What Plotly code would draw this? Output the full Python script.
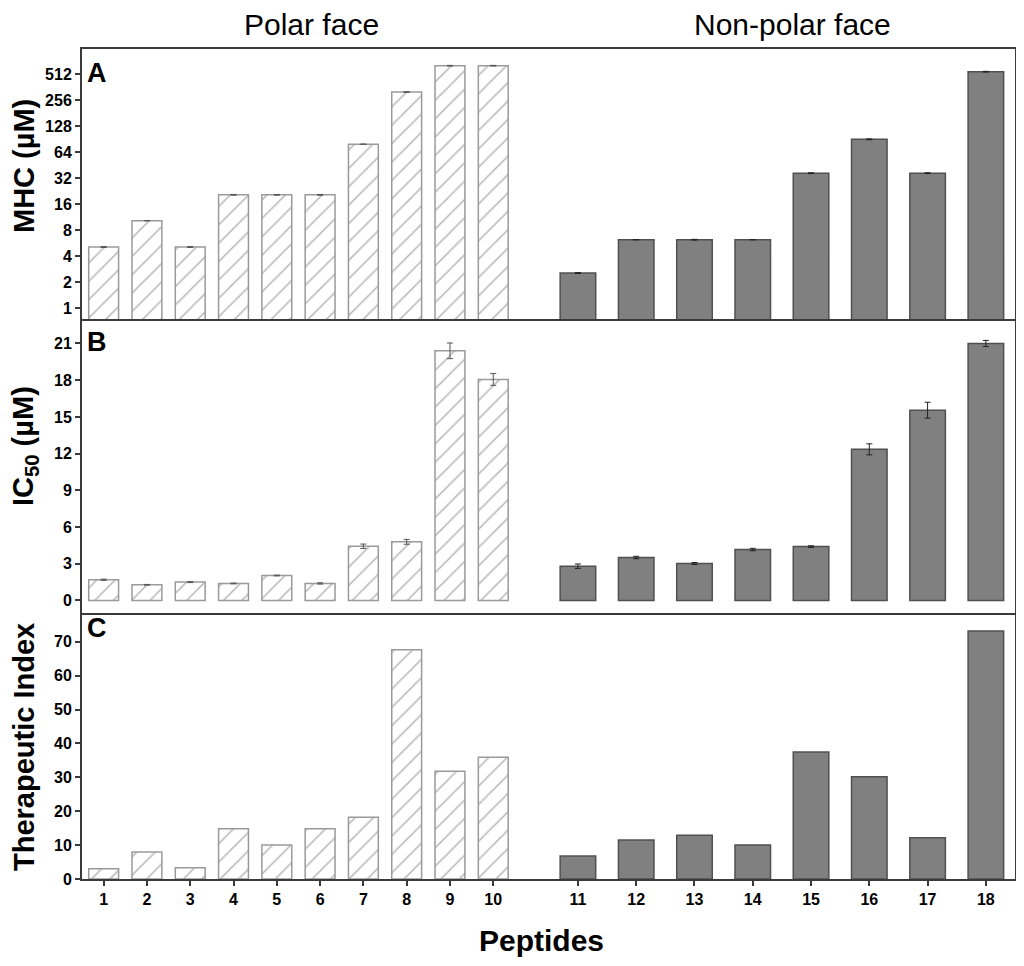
import plotly.graph_objects as go

# ---------------- data ----------------
polar_ids = [1, 2, 3, 4, 5, 6, 7, 8, 9, 10]
nonpolar_ids = [11, 12, 13, 14, 15, 16, 17, 18]

mhc_polar = [5.1, 10.3, 5.1, 20.5, 20.5, 20.5, 79, 317, 640, 640]
mhc_polar_err = [0.06, 0.0, 0.06, 0.2, 0.2, 0.2, 0.0, 2.0, 5.0, 5.0]
mhc_nonpolar = [2.55, 6.2, 6.2, 6.2, 36.5, 90, 36.5, 545]
mhc_nonpolar_err = [0.03, 0.0, 0.06, 0.0, 0.4, 1.0, 0.4, 5.0]

ic50_polar = [1.69, 1.28, 1.50, 1.39, 2.04, 1.39, 4.43, 4.79, 20.4, 18.06]
ic50_polar_err = [0.05, 0.03, 0.04, 0.03, 0.03, 0.05, 0.18, 0.2, 0.64, 0.48]
ic50_nonpolar = [2.8, 3.51, 3.02, 4.16, 4.40, 12.35, 15.55, 21.0]
ic50_nonpolar_err = [0.18, 0.1, 0.08, 0.1, 0.07, 0.45, 0.65, 0.25]

ti_polar = [3.0, 8.0, 3.3, 14.8, 10.0, 14.8, 18.2, 67.7, 31.8, 35.9]
ti_nonpolar = [6.8, 11.5, 12.9, 10.0, 37.5, 30.2, 12.2, 73.2]

mhc_ticks = [1, 2, 4, 8, 16, 32, 64, 128, 256, 512]
ic50_ticks = [0, 3, 6, 9, 12, 15, 18, 21]
ti_ticks = [0, 10, 20, 30, 40, 50, 60, 70]

# ---------------- geometry helpers (page pixel coords) ----------------
OFF = 8  # default body margin of the html page
FW, FH = 1024 - OFF, 966 - OFF
L, R, T, B = 82, 1015, 49, 879


def px(x):
    return (x - L) / (R - L)


def py(y):
    return (B - y) / (B - T)


split = px(551.7)
rowA = [py(319), 1.0]
rowB = [py(612.7), py(319)]
rowC = [0.0, py(612.7)]

AX = "#3a3a3a"
FONT = "Liberation Sans"

hatch = dict(shape="/", fgcolor="#7a7a7a", bgcolor="white", size=13, solidity=0.12)
left_marker = dict(color="white", pattern=hatch, line=dict(color="#9a9a9a", width=1.5))
right_marker = dict(color="#808080", line=dict(color="#505050", width=1.5))
err_left = dict(color="#555555", thickness=1, width=3)
err_right = dict(color="#222222", thickness=1, width=3)

fig = go.Figure()


def add_bar(x, y, xa, ya, marker, width, err=None, errstyle=None):
    kw = {}
    if err is not None:
        kw["error_y"] = dict(type="data", array=err, visible=True, **errstyle)
    fig.add_trace(go.Bar(x=x, y=y, xaxis=xa, yaxis=ya, marker=marker, width=width,
                         showlegend=False, **kw))


wl, wr = 0.69, 0.61
add_bar(polar_ids, mhc_polar, "x", "y", left_marker, wl, mhc_polar_err, err_left)
add_bar(nonpolar_ids, mhc_nonpolar, "x2", "y2", right_marker, wr, mhc_nonpolar_err, err_right)
add_bar(polar_ids, ic50_polar, "x3", "y3", left_marker, wl, ic50_polar_err, err_left)
add_bar(nonpolar_ids, ic50_nonpolar, "x4", "y4", right_marker, wr, ic50_nonpolar_err, err_right)
add_bar(polar_ids, ti_polar, "x5", "y5", left_marker, wl)
add_bar(nonpolar_ids, ti_nonpolar, "x6", "y6", right_marker, wr)

left_xrange = [0.5, 11.35]
right_xrange = [10.55, 18.5]
tickfont = dict(family=FONT, size=16, color="black", weight="bold")

base_x = dict(showgrid=False, zeroline=False, showline=True, linecolor=AX, linewidth=2,
              ticks="", showticklabels=False)
base_y = dict(showgrid=False, zeroline=False, showline=True, linecolor=AX, linewidth=2)

layout = dict(
    width=FW, height=FH,
    margin=dict(l=L - OFF, r=1024 - R, t=T - OFF, b=966 - B),
    paper_bgcolor="white", plot_bgcolor="white",
    bargap=0.3,
)

rows = [(rowA, "", "2"), (rowB, "3", "4"), (rowC, "5", "6")]
for i, (dom, la, ra) in enumerate(rows):
    lx = "xaxis" + la
    rx = "xaxis" + ra
    ly = "yaxis" + la
    ry = "yaxis" + ra
    yl = "y" + la
    yr = "y" + ra
    xl = "x" + la
    xr = "x" + ra
    mirror = (i == 0)
    layout[lx] = dict(base_x, domain=[0, split], range=left_xrange, anchor=yl, mirror=mirror)
    layout[rx] = dict(base_x, domain=[split, 1], range=right_xrange, anchor=yr, mirror=mirror)
    if i == 2:
        layout[lx].update(ticks="outside", ticklen=5, tickwidth=1.5, tickcolor=AX,
                          showticklabels=True, tickvals=polar_ids, tickfont=tickfont)
        layout[rx].update(ticks="outside", ticklen=5, tickwidth=1.5, tickcolor=AX,
                          showticklabels=True, tickvals=nonpolar_ids, tickfont=tickfont)
    layout[ly] = dict(base_y, domain=dom, anchor=xl, ticks="outside", ticklen=5,
                      tickwidth=1.5, tickcolor=AX, tickfont=tickfont)
    layout[ry] = dict(base_y, domain=dom, anchor=xr, side="right", ticks="",
                      showticklabels=False)

layout["yaxis"].update(type="log", range=[-0.125, 2.999], tickvals=mhc_ticks,
                       ticktext=[str(v) for v in mhc_ticks])
layout["yaxis2"].update(type="log", range=[-0.125, 2.999])
layout["yaxis3"].update(range=[-1.0, 23.0], tickvals=ic50_ticks)
layout["yaxis4"].update(range=[-1.0, 23.0])
layout["yaxis5"].update(range=[0, 78.6], tickvals=ti_ticks)
layout["yaxis6"].update(range=[0, 78.6])

fig.update_layout(**layout)

ann = []


def text(s, x, y, size, bold=False, angle=0, xanchor="center"):
    ann.append(dict(text=s, x=px(x), y=py(y), xref="paper", yref="paper", showarrow=False,
                    xanchor=xanchor, yanchor="middle", textangle=angle, borderpad=0,
                    font=dict(family=FONT, size=size, color="black",
                              weight="bold" if bold else "normal")))


text("Polar face", 311, 24, 30)
text("Non-polar face", 792, 24, 30)
text("A", 86, 73, 27, bold=True, xanchor="left")
text("B", 86, 342, 27, bold=True, xanchor="left")
text("C", 86, 628, 27, bold=True, xanchor="left")
text("MHC (µM)", 24, 166, 29, bold=True, angle=-90)
text("IC<sub>50</sub> (µM)", 25, 446, 29, bold=True, angle=-90)
text("Therapeutic Index", 24, 747, 29, bold=True, angle=-90)
text("Peptides", 541, 940, 30, bold=True)
fig.update_layout(annotations=ann)

fig.write_html("out.html")
